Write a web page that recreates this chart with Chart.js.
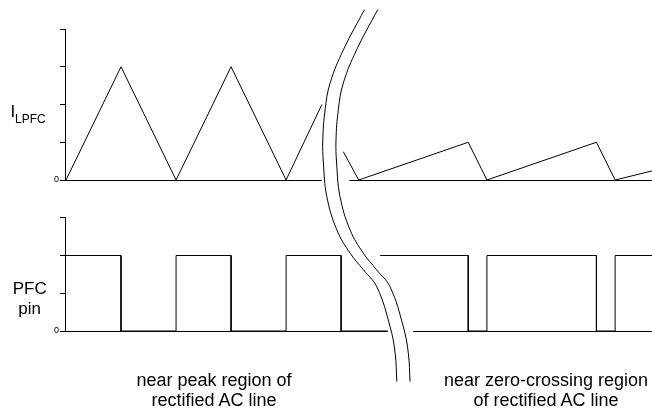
<!DOCTYPE html>
<html><head><meta charset="utf-8">
<script src="https://cdn.jsdelivr.net/npm/chart.js@4.4.1/dist/chart.umd.min.js"></script>
<style>
html,body{margin:0;padding:0;background:#fff;}
#wrap{position:relative;width:652px;height:410px;overflow:hidden;font-family:"Liberation Sans",Arial,sans-serif;color:#000;}
canvas{position:absolute;left:0;top:0;}
.lbl{position:absolute;white-space:nowrap;}
</style></head><body>
<div id="wrap">
<canvas id="c" width="652" height="410"></canvas>
<div class="lbl" style="left:10.5px;top:102.6px;font-size:17px;line-height:17px;">I</div>
<div class="lbl" style="left:15px;top:112.8px;font-size:12px;line-height:12px;">LPFC</div>
<div class="lbl" style="left:0;width:59.4px;top:279.1px;font-size:17px;line-height:20px;text-align:center;">PFC<br>pin</div>
<div class="lbl" style="left:64px;width:300px;top:369.8px;font-size:18px;line-height:20px;text-align:center;">near peak region of<br>rectified AC line</div>
<div class="lbl" style="left:396px;width:300px;top:369.8px;font-size:18px;line-height:20px;text-align:center;">near zero-crossing region<br>of rectified AC line</div>
</div>
<script>
// ---- data (x in arbitrary time units, y in panel units) ----
const xMax = 106.5;
const yTopTicks = [0, 1, 2, 3, 4];
const yBotTicks = [0, 1, 2, 3];
const iLeftX  = [0, 10, 20, 30, 40, 46.5];
const iLeftY  = [0, 3, 0, 3, 0, 2];
const iRightX = [50.4, 53.2, 73.1, 76.5, 96.4, 99.8, 106.5];
const iRightY = [0.75, 0, 1, 0, 1, 0, 0.24];
const pfcLeftX  = [0, 10, 10, 20, 20, 30, 30, 40, 40, 50, 50, 58.5];
const pfcLeftY  = [2, 2, 0, 0, 2, 2, 0, 0, 2, 2, 0, 0];
const pfcRightX = [57.1, 73.1, 73.1, 76.5, 76.5, 96.4, 96.4, 99.8, 99.8, 106.5];
const pfcRightY = [2, 2, 0, 0, 2, 2, 0, 0, 2, 2];
const topAxisGap = [46.5, 51.5];
const bottomAxisGap = [58.5, 63.1];
// axis-break symbol (x units, lower-panel y units)
const breakX = [54.24, 50.42, 48.0, 47.09, 46.67, 46.78, 47.4, 49.22, 51.64, 54.05, 56.49, 58.91, 59.82, 60.13];
const breakY = [8.51, 7.45, 6.57, 5.86, 5.06, 4.45, 3.56, 2.68, 2.06, 1.62, 1.17, 0.11, -0.59, -1.34];
const breakWidth = 2.4;

const pts = (xs, ys) => xs.map((x, i) => ({x: x, y: ys[i]}));
const sig = (data, axis) => ({data, yAxisID: axis, borderColor: '#000', borderWidth: 1, pointRadius: 0, tension: 0, fill: false});
const brk = (dx) => ({data: pts(breakX.map(v => v + dx), breakY), yAxisID: 'yBot', borderColor: '#000', borderWidth: 1,
  pointRadius: 0, tension: 0.4, fill: false, clip: false});

const axisLines = {
  id: 'axisLines',
  afterDatasetsDraw(chart) {
    const {ctx} = chart;
    const x = chart.scales.x, yT = chart.scales.yTop, yB = chart.scales.yBot;
    const a = v => Math.round(v) + 0.5;
    ctx.save();
    ctx.strokeStyle = '#000';
    ctx.lineWidth = 1;
    ctx.beginPath();
    const x0 = Math.round(x.getPixelForValue(0)) - 0.5;
    ctx.moveTo(x0, yT.getPixelForValue(0));
    ctx.lineTo(x0, yT.getPixelForValue(yTopTicks[yTopTicks.length - 1]));
    ctx.moveTo(x0, yB.getPixelForValue(0));
    ctx.lineTo(x0, yB.getPixelForValue(yBotTicks[yBotTicks.length - 1]));
    const yt0 = a(yT.getPixelForValue(0));
    ctx.moveTo(x0, yt0); ctx.lineTo(x.getPixelForValue(topAxisGap[0]), yt0);
    ctx.moveTo(x.getPixelForValue(topAxisGap[1]), yt0); ctx.lineTo(x.getPixelForValue(xMax), yt0);
    const yb0 = a(yB.getPixelForValue(0));
    ctx.moveTo(x0, yb0); ctx.lineTo(x.getPixelForValue(bottomAxisGap[0]), yb0);
    ctx.moveTo(x.getPixelForValue(bottomAxisGap[1]), yb0); ctx.lineTo(x.getPixelForValue(xMax), yb0);
    ctx.stroke();
    ctx.restore();
  }
};

const yAxis = (ticksArr, min, max, weight, stackWeight) => ({
  type: 'linear', position: 'left', stack: 'panels', stackWeight: stackWeight, weight: weight,
  min: min, max: max,
  afterBuildTicks: s => { s.ticks = ticksArr.map(v => ({value: v})); },
  afterFit: s => { s.width = 66; },
  grid: {drawOnChartArea: false, drawTicks: true, tickLength: 6, color: '#000', lineWidth: 1},
  border: {display: false},
  ticks: {callback: v => (v === 0 ? '0' : ''), color: '#000', padding: 1,
    font: {family: '"Liberation Sans", Arial, sans-serif', size: 9}}
});

new Chart(document.getElementById('c'), {
  type: 'line',
  data: {datasets: [
    sig(pts(iLeftX, iLeftY), 'yTop'),
    sig(pts(iRightX, iRightY), 'yTop'),
    sig(pts(pfcLeftX, pfcLeftY), 'yBot'),
    sig(pts(pfcRightX, pfcRightY), 'yBot'),
    brk(0),
    brk(breakWidth)
  ]},
  options: {
    responsive: false, animation: false, events: [],
    layout: {padding: {left: 0, right: 0, top: 29, bottom: 79}},
    plugins: {legend: {display: false}, tooltip: {enabled: false}},
    scales: {
      x: {type: 'linear', min: 0, max: xMax, display: false},
      yBot: yAxis(yBotTicks, 0, 3.5, 0, 3.5),
      yTop: yAxis(yTopTicks, -0.5, 4, 1, 4.5)
    }
  },
  plugins: [axisLines]
});
</script>
</body></html>
